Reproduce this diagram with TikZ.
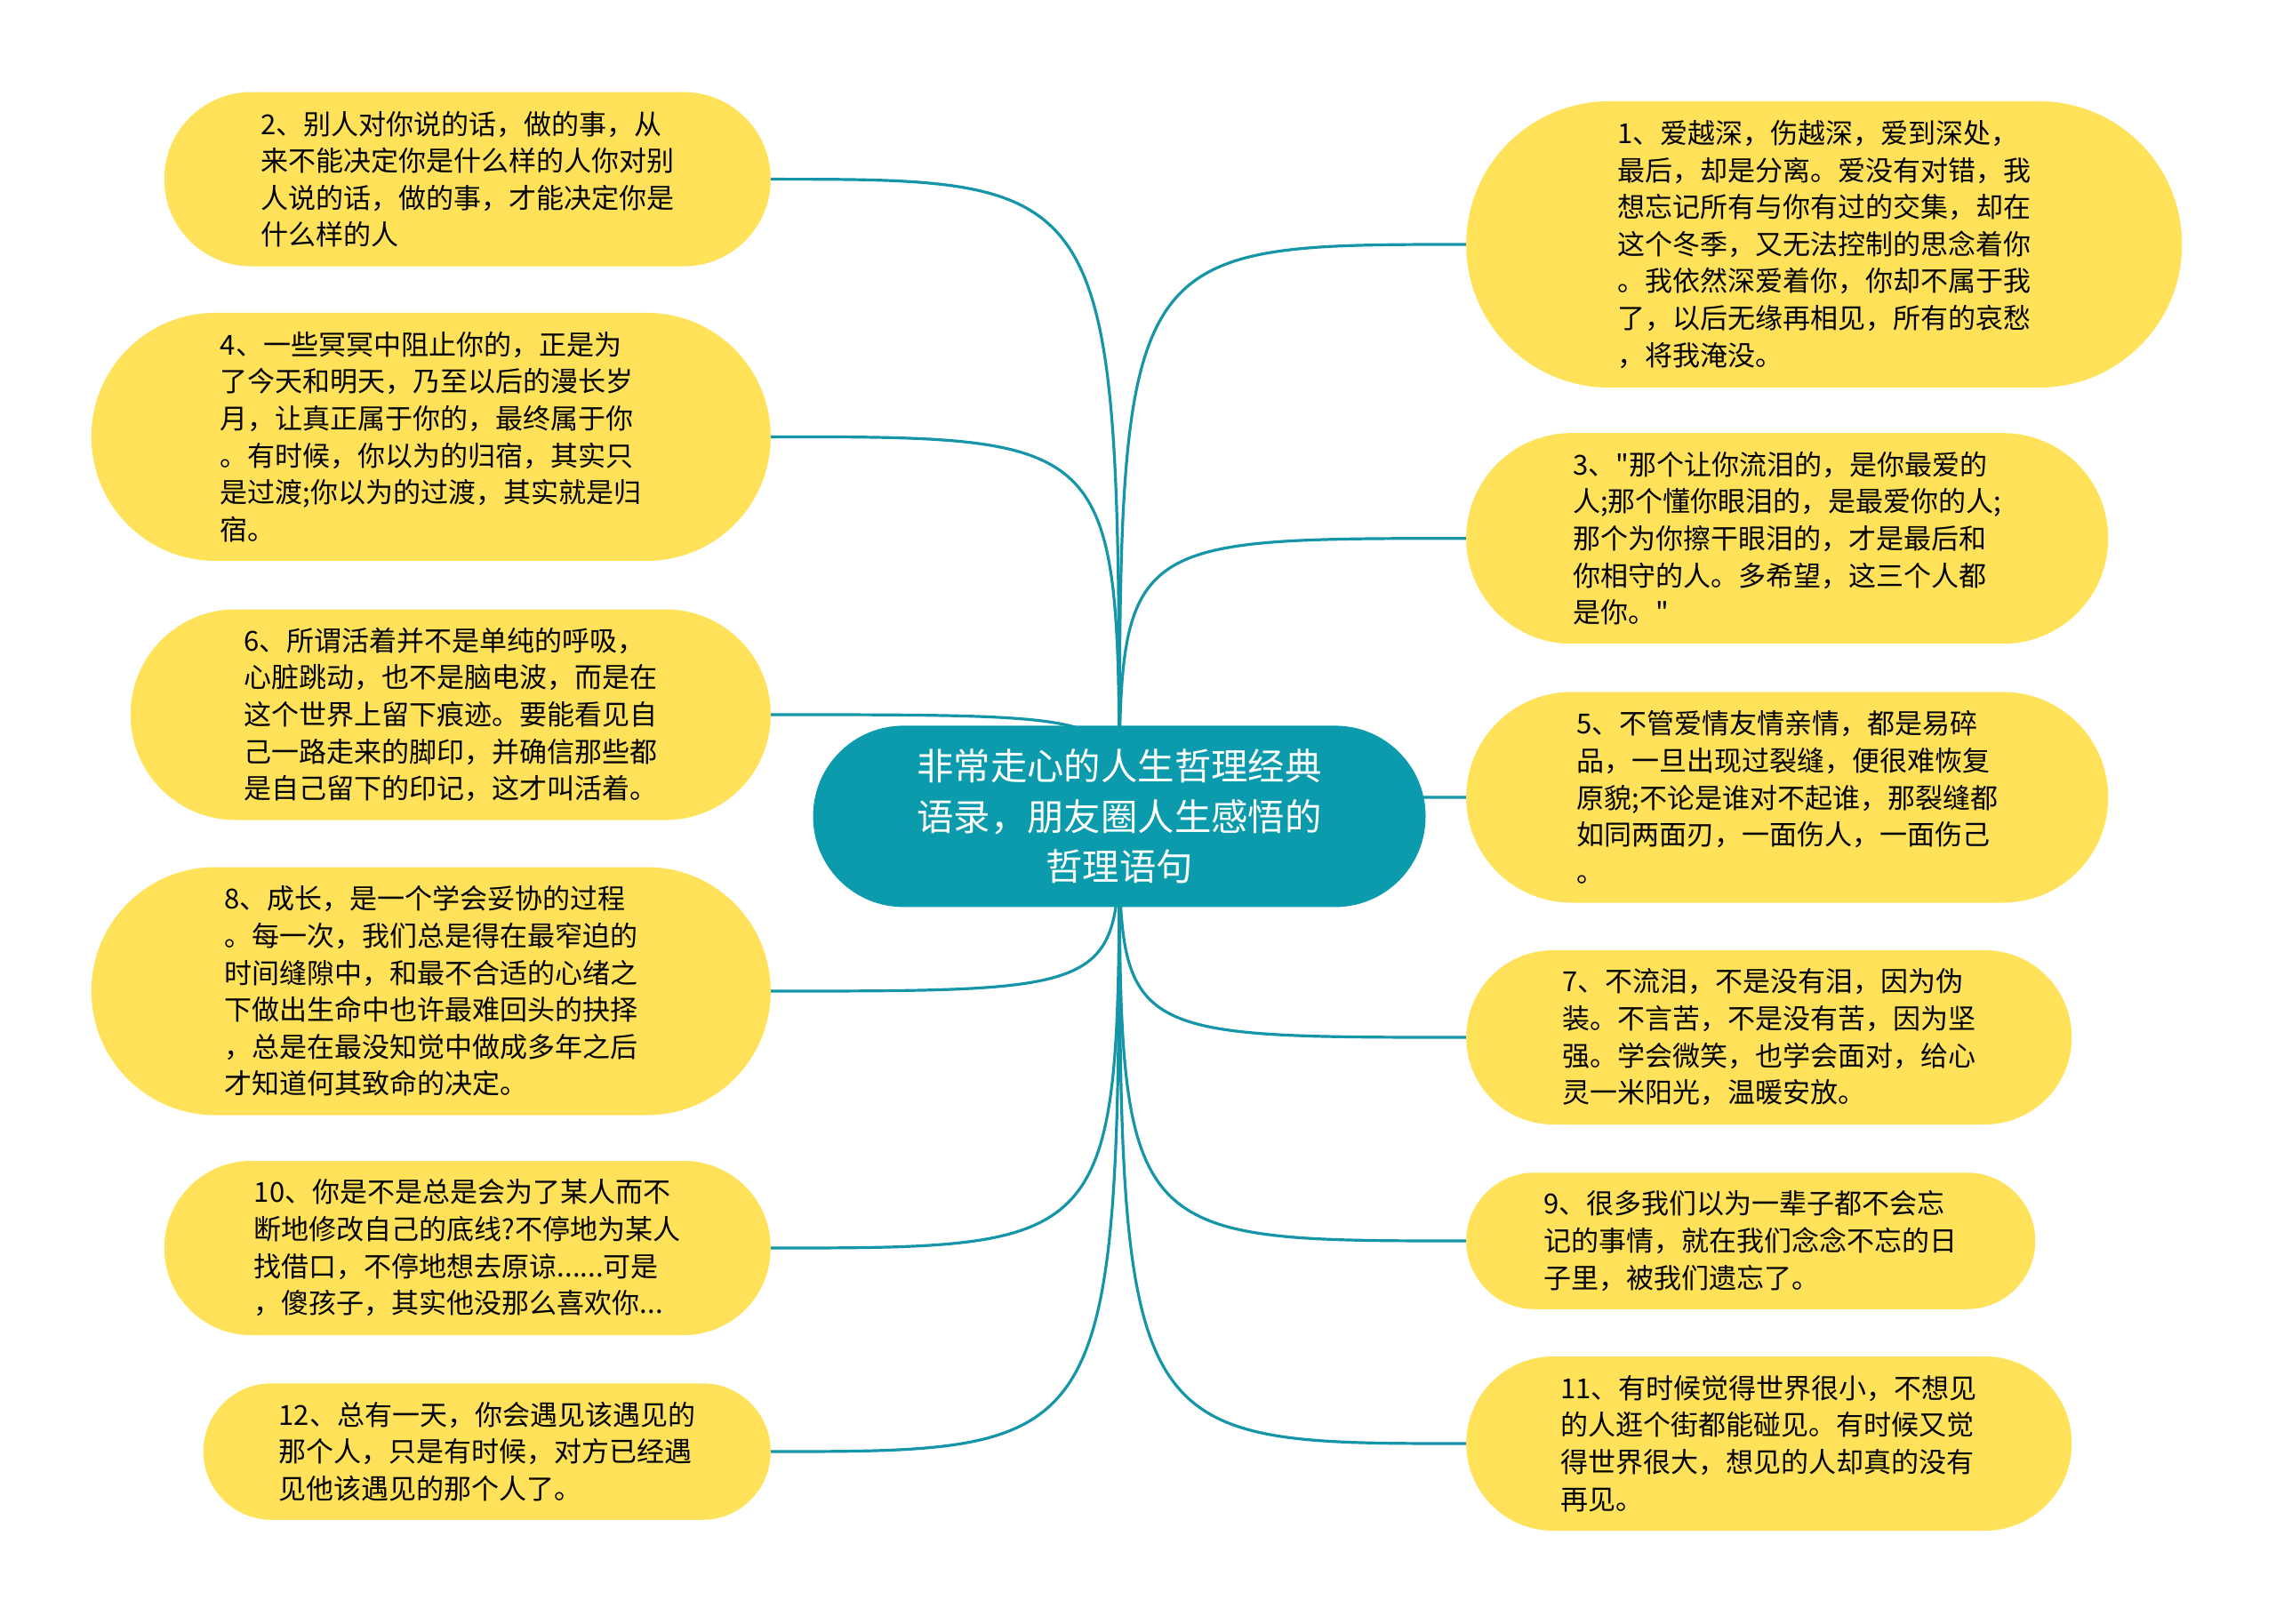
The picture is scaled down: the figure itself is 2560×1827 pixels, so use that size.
\documentclass[tikz,border=0pt]{standalone}
\usepackage{fontspec}
\newfontfamily\cjkfont{Noto Sans CJK SC}
\pgfdeclarelayer{bgfill}
\pgfdeclarelayer{links}
\pgfsetlayers{bgfill,links,main}
\definecolor{leafyellow}{RGB}{255,226,89}
\definecolor{hubteal}{RGB}{12,155,172}
\definecolor{linkteal}{RGB}{20,150,168}
\tikzset{
  leaf/.style 2 args={rectangle, fill=leafyellow, draw=none, inner sep=0pt,
    minimum width=#1, minimum height=#2, rounded corners=0.499*#2,
    align=left, text=black, font=\cjkfont\fontsize{31pt}{41.6pt}\selectfont},
  hub/.style={rectangle, fill=hubteal, draw=none, inner sep=0pt,
    minimum width=689pt, minimum height=204pt, rounded corners=101.8pt,
    align=center, text=white, font=\cjkfont\fontsize{41.4pt}{56.3pt}\selectfont},
  link/.style={draw=linkteal, line width=3.2pt}
}
\begin{document}
\begin{tikzpicture}[x=1pt,y=-1pt]
\useasboundingbox (0,0) rectangle (2560,1827);
\begin{pgfonlayer}{bgfill}
\fill[white] (0,0) rectangle (2560,1827);
\end{pgfonlayer}

\node[hub] (hub) at (1259,918.4) {非常走心的人生哲理经典\\语录，朋友圈人生感悟的\\哲理语句};

% left side
\node[leaf={682pt}{196pt}, anchor=east] (n2) at (867,201.6) {2、别人对你说的话，做的事，从\\来不能决定你是什么样的人你对别\\人说的话，做的事，才能决定你是\\什么样的人};
\node[leaf={764pt}{279pt}, anchor=east] (n4) at (867,491.4) {4、一些冥冥中阻止你的，正是为\\了今天和明天，乃至以后的漫长岁\\月，让真正属于你的，最终属于你\\。有时候，你以为的归宿，其实只\\是过渡;你以为的过渡，其实就是归\\宿。};
\node[leaf={720pt}{237pt}, anchor=east] (n6) at (867,804) {6、所谓活着并不是单纯的呼吸，\\心脏跳动，也不是脑电波，而是在\\这个世界上留下痕迹。要能看见自\\己一路走来的脚印，并确信那些都\\是自己留下的印记，这才叫活着。};
\node[leaf={764pt}{279pt}, anchor=east] (n8) at (867,1115) {8、成长，是一个学会妥协的过程\\。每一次，我们总是得在最窄迫的\\时间缝隙中，和最不合适的心绪之\\下做出生命中也许最难回头的抉择\\，总是在最没知觉中做成多年之后\\才知道何其致命的决定。};
\node[leaf={682pt}{196pt}, anchor=east] (n10) at (867,1404) {10、你是不是总是会为了某人而不\\断地修改自己的底线?不停地为某人\\找借口，不停地想去原谅......可是\\，傻孩子，其实他没那么喜欢你...};
\node[leaf={638pt}{153.5pt}, anchor=east] (n12) at (867,1633) {12、总有一天，你会遇见该遇见的\\那个人，只是有时候，对方已经遇\\见他该遇见的那个人了。};

% right side
\node[leaf={805pt}{322pt}, anchor=west] (n1) at (1649,275) {1、爱越深，伤越深，爱到深处，\\最后，却是分离。爱没有对错，我\\想忘记所有与你有过的交集，却在\\这个冬季，又无法控制的思念着你\\。我依然深爱着你，你却不属于我\\了，以后无缘再相见，所有的哀愁\\，将我淹没。};
\node[leaf={722pt}{237pt}, anchor=west] (n3) at (1649,605.7) {3、"那个让你流泪的，是你最爱的\\人;那个懂你眼泪的，是最爱你的人;\\那个为你擦干眼泪的，才是最后和\\你相守的人。多希望，这三个人都\\是你。"};
\node[leaf={722pt}{237pt}, anchor=west] (n5) at (1649,897) {5、不管爱情友情亲情，都是易碎\\品，一旦出现过裂缝，便很难恢复\\原貌;不论是谁对不起谁，那裂缝都\\如同两面刃，一面伤人，一面伤己\\。};
\node[leaf={681pt}{196pt}, anchor=west] (n7) at (1649,1167) {7、不流泪，不是没有泪，因为伪\\装。不言苦，不是没有苦，因为坚\\强。学会微笑，也学会面对，给心\\灵一米阳光，温暖安放。};
\node[leaf={640pt}{153.5pt}, anchor=west] (n9) at (1649,1396) {9、很多我们以为一辈子都不会忘\\记的事情，就在我们念念不忘的日\\子里，被我们遗忘了。};
\node[leaf={681pt}{196pt}, anchor=west] (n11) at (1649,1624) {11、有时候觉得世界很小，不想见\\的人逛个街都能碰见。有时候又觉\\得世界很大，想见的人却真的没有\\再见。};

\begin{pgfonlayer}{links}
\foreach \n in {n2,n4,n6,n8,n10,n12} {
  \draw[link] (hub.center) .. controls (hub.center |- \n.east) .. (\n.east);
}
\foreach \n in {n1,n3,n5,n7,n9,n11} {
  \draw[link] (hub.center) .. controls (hub.center |- \n.west) .. (\n.west);
}
\end{pgfonlayer}
\end{tikzpicture}
\end{document}
